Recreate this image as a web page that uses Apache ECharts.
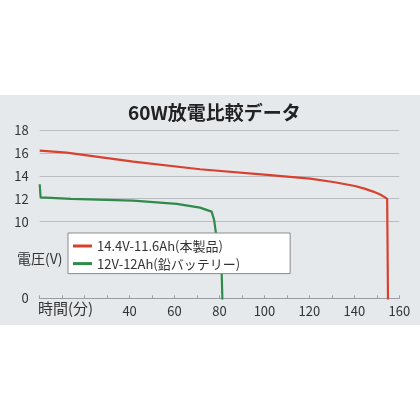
<!DOCTYPE html>
<html>
<head>
<meta charset="utf-8">
<script src="https://cdn.jsdelivr.net/npm/echarts@6/dist/echarts.min.js"></script>
<style>
  html, body { margin: 0; padding: 0; background: #fff; }
  #main {
    width: 420px; height: 420px;
    background: linear-gradient(#fff 0, #fff 95px, #e6e9ec 95px, #e6e9ec 325px, #fff 325px);
  }
</style>
</head>
<body>
<div id="main"></div>
<script>
// 60W放電データ（時間[分], 電圧[V]）
var seriesNames = ['14.4V-11.6Ah(本製品)', '12V-12Ah(鉛バッテリー)'];
var liIonData = [[0, 16.2], [0.6, 16.3], [12, 16.02], [41.6, 15.24], [71.3, 14.57], [99.9, 14.1],
    [120.3, 13.75], [130.6, 13.46], [140.3, 13.11], [144.5, 12.88], [148.4, 12.62], [151.5, 12.36],
    [153.3, 12.16], [154.6, 11.98], [155.1, 0]];
var leadData = [[0, 13.26], [0.4, 12.12], [14, 11.98], [14.5, 12.02], [41.6, 11.83], [61, 11.54],
    [71.3, 11.22], [76.5, 10.87], [77.6, 10.15], [81.0, 5.35], [81.7, 0]];
var yTicks = [3.3, 10, 12, 14, 16, 18];   // 一番下は「0」と表示
var xLabels = [40, 60, 80, 100, 120, 140, 160];

var FONT = '"Noto Sans CJK JP", sans-serif';

var chart = echarts.init(document.getElementById('main'));
var option = {
    title: {
        text: '60W放電比較データ',
        left: 128,
        top: 103,
        padding: 0,
        textStyle: { fontFamily: FONT, fontSize: 19, fontWeight: 'bold', color: '#222' }
    },
    legend: {
        data: seriesNames,
        orient: 'vertical',
        left: 68,
        top: 233,
        padding: [5, 50, 2, 5],
        itemGap: 1.6,
        itemWidth: 19,
        itemHeight: 3,
        icon: 'rect',
        backgroundColor: '#fff',
        borderColor: '#8a8a8a',
        borderWidth: 1,
        borderRadius: 0,
        textStyle: { fontFamily: FONT, fontSize: 13, lineHeight: 16, color: '#333' }
    },
    grid: { left: 39.7, right: 20.7, top: 130, bottom: 121.7, containLabel: false },
    xAxis: {
        type: 'value',
        min: 0,
        max: 160,
        interval: 10,
        axisLine: { lineStyle: { color: '#9a9ea2', width: 1 } },
        axisTick: { inside: true, length: 3, lineStyle: { color: '#9a9ea2' } },
        splitLine: { show: false },
        axisLabel: {
            margin: 6,
            fontFamily: FONT, fontSize: 13, color: '#333',
            formatter: function (v) {
                return (xLabels.indexOf(v) >= 0) ? String(v) : '';
            }
        }
    },
    yAxis: {
        type: 'value',
        min: 3.3,
        max: 18,
        axisLine: { show: false },
        axisTick: { show: false, customValues: yTicks },
        splitLine: { lineStyle: { color: '#b9bcc0', width: 1 } },
        axisLabel: {
            customValues: yTicks,
            margin: 11,
            fontFamily: FONT, fontSize: 13, color: '#333',
            formatter: function (v) {
                return v < 5 ? '0' : String(v);
            }
        }
    },
    graphic: [
        { type: 'text', left: 17, top: 252, style: { text: '電圧(V)', font: '14px ' + FONT, fill: '#333' } },
        { type: 'text', left: 38, top: 301, style: { text: '時間(分)', font: '15px ' + FONT, fill: '#333' } }
    ],
    series: [
        {
            name: seriesNames[0],
            type: 'line',
            data: liIonData,
            showSymbol: false,
            lineStyle: { color: '#d8412e', width: 2.2 },
            itemStyle: { color: '#d8412e' },
            z: 3
        },
        {
            name: seriesNames[1],
            type: 'line',
            data: leadData,
            showSymbol: false,
            lineStyle: { color: '#2f8a4c', width: 2.2 },
            itemStyle: { color: '#2f8a4c' },
            z: 2
        }
    ]
};
chart.setOption(option);
</script>
</body>
</html>
